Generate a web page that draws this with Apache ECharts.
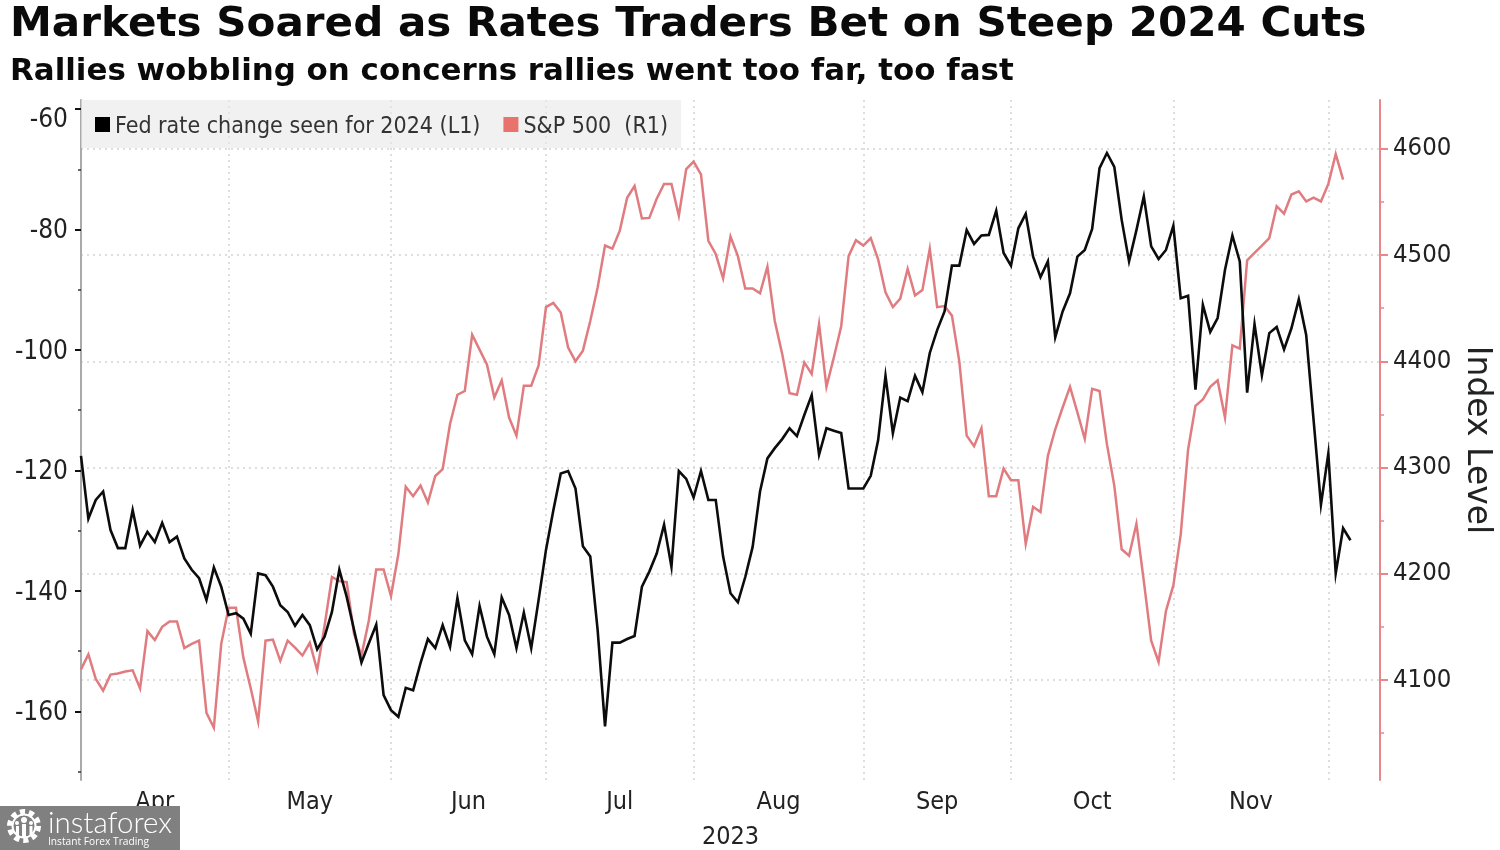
<!DOCTYPE html>
<html>
<head>
<meta charset="utf-8">
<style>html,body{margin:0;padding:0;background:#fff}#chart{width:1500px;height:850px}</style>
<script src="https://cdn.jsdelivr.net/npm/echarts@6/dist/echarts.min.js"></script>
</head>
<body>
<div id="chart"></div>
<script>
// Values. Index = trading day, starting 31 Mar 2023.
var fedChange = [-117.6,-128,-124.9,-123.5,-129.9,-132.9,-132.9,-126.6,-132.5,-130.2,-131.9,-128.7,-131.9,-131,-134.6,-136.5,-137.9,-141.5,-136.1,-139.3,
-144,-143.7,-144.6,-147.1,-137.1,-137.4,-139.3,-142.4,-143.5,-145.8,-144,-145.7,-149.7,-147.6,-143.5,-136.5,-141,-146.5,-151.9,-148.7,-145.6,-157.3,
-159.8,-160.9,-156.1,-156.5,-152,-148,-149.5,-145.7,-149.3,-141.2,-148.2,-150.5,-142.5,-147.6,-150.5,-141.1,-144,-149.5,-143.6,-149.5,-141.5,
-133.2,-126.6,-120.5,-120.1,-123,-132.6,-134.3,-146.5,-162.5,-148.6,-148.6,-148,-147.5,-139.3,-136.8,-133.8,-129,-136,-120.1,-121.4,
-124.5,-120.1,-124.9,-124.9,-134.3,-140.4,-141.9,-137.7,-132.7,-123.5,-118,-116.3,-114.8,-113,-114.3,-110.8,-107.5,-117.4,-113,-113.4,-113.8,-123,-123,
-123,-120.9,-115,-104.3,-113.8,-107.9,-108.5,-104.3,-107,-100.5,-96.7,-93.6,-86,-86,-80.1,-82.4,-81,-80.9,-76.9,-83.9,
-86,-79.8,-77.4,-84.5,-87.9,-85.3,-97.9,-93.6,-90.6,-84.5,-83.4,-79.9,-69.8,-67.3,-69.6,-78.4,-85.3,-80.1,-74.5,-82.8,-84.9,-83.4,
-79.4,-91.4,-91,-106.6,-92.5,-97,-94.7,-86.7,-81,-85.3,-107.1,-95.7,-104.2,-97.2,-96.2,-99.9,-96.4,-91.6,-97.5,-111.6,-125.7,
-117.2,-137.1,-129.6,-131.6];
var sp500 = [4110,4124,4101,4090,4105,4106,4108,4109,4092,4146,4137.5,4150,4155,4155,4130,4134,4137,4069,4055,4134,
4168,4168,4121,4092,4061,4137,4138,4118,4137,4130.5,4123,4135,4109,4151,4197,4193,4192,4143,4123,4156,4204,4204,
4179,4218.5,4282,4273,4283,4267,4292,4298.5,4341,4368.5,4372,4425,4411,4397,4366,4382,4347,4330,4377,4377,4396,
4451,4455,4446,4413,4400,4410,4438,4469.5,4509,4506,4523,4554,4565,4534.5,4535,4553,4567,4567,4537,4581,
4588,4576,4513.5,4501,4478,4517.5,4499,4468.5,4468.5,4464,4489,4438,4407,4370,4368.5,4399,4388,4435,4376,4403.6,4433,4499,4514,
4509,4516,4496,4465,4451,4459,4487,4462,4467,4506,4451,4452,4443,4400,4330,4320,4337,4273,4273,4299,
4288,4288,4228,4263,4258,4311,4336,4356.5,4376,4352,4327,4374,4372,4322,4283,4223,4217,4247,4193,4137,4117,4165,
4189,4237,4317,4358,4364,4376,4382,4347,4415,4412,4495,4502,4509,4516,4546,4539,4557,4560,4550.5,4554,4550.5,
4567,4595,4571];
var monthNames = ['Apr','May','Jun','Jul','Aug','Sep','Oct','Nov'];
var monthStarts = [0,20,42,63,83,106,126,148,169];
var monthCentres = [10,31,52.5,73,94.5,116,137,158.5];
var leftMajor = [-160,-140,-120,-100,-80,-60];
var leftMinor = [-170,-150,-130,-110,-90,-70];
var rightMajor = [4100,4200,4300,4400,4500,4600];
var rightMinor = [4050,4150,4250,4350,4450,4550];

var FONT = '"DejaVu Sans Condensed","DejaVu Sans",sans-serif';
var INK = '#222222', RED = '#e07c80', GRID = '#d4d4d4', REDTICK = '#e8868a';
var leftRange = {min:-171.4, max:-58.5};
var rightRange = {min:4005.8, max:4646};

function pairs(arr){ return arr.map(function(v,i){ return [i,v]; }); }
function plain(v){ return String(v); }
function leftLabel(v){ return v === -60 ? '{low|' + v + '}' : String(v); }

var chart = echarts.init(document.getElementById('chart'), null, {renderer:'canvas'});
chart.setOption({
  animation:false,
  backgroundColor:'#fff',
  legend:{
    left:81,top:100,padding:[10,13,9,14],itemGap:23,itemWidth:15,itemHeight:15,icon:'rect',
    backgroundColor:'rgba(232,232,232,0.6)',
    formatter:function(n){return '{t|'+n+'}';},
    textStyle:{fontFamily:FONT,fontSize:23,color:'#333',
      rich:{t:{fontFamily:FONT,fontSize:23,color:'#333',lineHeight:27,padding:[6,0,0,0]}}},
    data:[{name:'Fed rate change seen for 2024 (L1)',itemStyle:{color:'#000'}},
          {name:'S&P 500  (R1)',itemStyle:{color:'#e8736c'}}]
  },
  grid:{left:81,right:120,top:100,bottom:70,outerBoundsMode:'none'},
  xAxis:{
    type:'value',min:0,max:176,
    name:'2023',nameLocation:'middle',nameGap:45,
    nameTextStyle:{fontFamily:FONT,fontSize:25,color:INK},
    axisLine:{show:false},
    axisTick:{show:false,customValues:monthStarts},
    splitLine:{show:true,lineStyle:{color:GRID,type:[2,4],width:1.5}},
    axisLabel:{customValues:monthCentres,margin:10,fontFamily:FONT,fontSize:25,color:INK,
      formatter:function(v){return monthNames[monthCentres.indexOf(v)];}}
  },
  yAxis:[
    {type:'value',position:'left',min:leftRange.min,max:leftRange.max,
     axisLine:{show:true,onZero:false,lineStyle:{color:'#aaaaaa',width:2}},
     axisTick:{show:true,length:6,customValues:leftMajor,lineStyle:{color:'#111',width:2}},
     splitLine:{show:false},
     axisLabel:{customValues:leftMajor,margin:13,fontFamily:FONT,fontSize:26,color:INK,formatter:leftLabel,padding:[4,0,0,0],
       rich:{low:{fontFamily:FONT,fontSize:26,color:INK,padding:[18,0,0,0]}}}},
    {type:'value',position:'right',min:rightRange.min,max:rightRange.max,
     name:'Index Level',nameLocation:'middle',nameRotate:-90,nameGap:80,nameMoveOverlap:false,
     nameTextStyle:{fontFamily:'"DejaVu Sans",sans-serif',fontSize:33,color:INK},
     axisLine:{show:true,onZero:false,lineStyle:{color:REDTICK,width:2}},
     axisTick:{show:true,length:8,customValues:rightMajor,lineStyle:{color:REDTICK,width:2}},
     splitLine:{show:true,lineStyle:{color:GRID,type:[2,4],width:1.5}},
     axisLabel:{customValues:rightMajor,margin:13,fontFamily:FONT,fontSize:25.5,color:INK,formatter:plain}},
    {type:'value',position:'left',min:leftRange.min,max:leftRange.max,
     axisLine:{show:false},splitLine:{show:false},axisLabel:{show:false},
     axisTick:{show:true,length:3,customValues:leftMinor,lineStyle:{color:'#333',width:1.5}}},
    {type:'value',position:'right',min:rightRange.min,max:rightRange.max,
     axisLine:{show:false},splitLine:{show:false},axisLabel:{show:false},
     axisTick:{show:true,length:4,customValues:rightMinor,lineStyle:{color:REDTICK,width:1.5}}}
  ],
  series:[
    {name:'S&P 500  (R1)',type:'line',yAxisIndex:1,data:pairs(sp500),showSymbol:false,symbol:'none',
     z:2,lineStyle:{color:RED,width:2.5,join:'miter'},itemStyle:{color:'#e8736c'}},
    {name:'Fed rate change seen for 2024 (L1)',type:'line',yAxisIndex:0,data:pairs(fedChange),showSymbol:false,symbol:'none',
     z:3,lineStyle:{color:'#0c0c0c',width:2.6,join:'miter'},itemStyle:{color:'#000'}}
  ],
  graphic:[
    {type:'text',z:50,x:10,y:6,scaleX:1.052,style:{text:'Markets Soared as Rates Traders Bet on Steep 2024 Cuts',fill:'#0a0a0a',font:'bold 40px "DejaVu Sans", sans-serif'}},
    {type:'text',z:50,x:10,y:57,scaleX:1.03,style:{text:'Rallies wobbling on concerns rallies went too far, too fast',fill:'#0a0a0a',font:'bold 30px "DejaVu Sans", sans-serif'}},
    {type:'rect',z:100,shape:{x:0,y:806,width:180,height:44},style:{fill:'#808080'}},
    {type:'circle',z:101,shape:{cx:24,cy:826,r:14},style:{fill:'none',stroke:'#fff',lineWidth:6,lineDash:[5,3.8]}},
    {type:'circle',z:101,shape:{cx:24,cy:826,r:11.5},style:{fill:'none',stroke:'#fff',lineWidth:2}},
    {type:'circle',z:101,shape:{cx:24,cy:820,r:3},style:{fill:'#fff'}},
    {type:'circle',z:101,shape:{cx:17,cy:823,r:2},style:{fill:'#fff'}},
    {type:'circle',z:101,shape:{cx:31,cy:823,r:2},style:{fill:'#fff'}},
    {type:'rect',z:101,shape:{x:22,y:824,width:4,height:14},style:{fill:'#fff'}},
    {type:'rect',z:101,shape:{x:16,y:826,width:3,height:9},style:{fill:'#fff'}},
    {type:'rect',z:101,shape:{x:29.5,y:826,width:3,height:9},style:{fill:'#fff'}},
    {type:'text',z:101,x:48,y:808,style:{text:'instaforex',fill:'#fff',font:'300 29.5px Lato, "Open Sans", sans-serif'}},
    {type:'text',z:101,x:48,y:837,style:{text:'Instant Forex Trading',fill:'#fff',font:'10.2px "Open Sans", sans-serif'}}
  ]
});
</script>
</body>
</html>
